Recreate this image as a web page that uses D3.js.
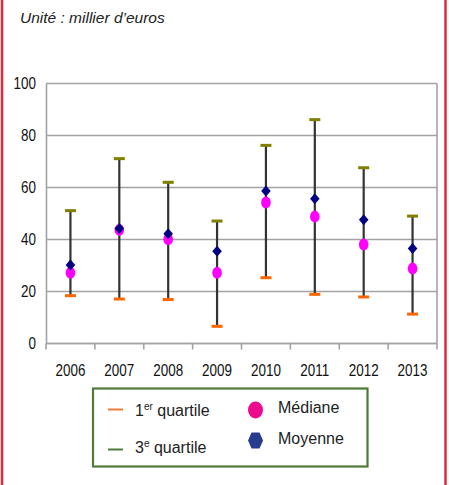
<!DOCTYPE html>
<html>
<head>
<meta charset="utf-8">
<script src="https://cdn.jsdelivr.net/npm/d3@7/dist/d3.min.js"></script>
<style>
  html, body { margin: 0; padding: 0; background: #fff; }
  svg { display: block; font-family: "Liberation Sans", Arial, sans-serif; }
</style>
</head>
<body>
<svg id="chart" width="449" height="485"></svg>
<script>
// Years on the x axis
const years = ["2006", "2007", "2008", "2009", "2010", "2011", "2012", "2013"];
// First quartile, third quartile, median and mean (thousand euros)
const q1 = [18.4, 17.1, 16.9, 6.6, 25.3, 18.9, 17.9, 11.3];
const q3 = [51.1, 71.1, 62.0, 47.1, 76.2, 86.1, 67.6, 49.0];
const median = [27.2, 43.7, 40.1, 27.2, 54.2, 48.8, 38.1, 28.8];
const mean = [30.2, 44.2, 42.2, 35.5, 58.7, 55.7, 47.6, 36.5];
// Y axis ticks
const yTicks = [0, 20, 40, 60, 80, 100];

const rows = years.map((y, i) => ({ year: y, q1: q1[i], q3: q3[i], med: median[i], mean: mean[i] }));

const svg = d3.select("#chart");
const plot = { left: 46, right: 437, top: 83.5, bottom: 343.5 };

const x = d3.scaleBand().domain(years).range([plot.left, plot.right]);
const y = d3.scaleLinear().domain([0, 100]).range([plot.bottom, plot.top]);

// Outer frame: red rules on the left and right
svg.append("line").attr("x1", 2).attr("x2", 2).attr("y1", 0).attr("y2", 485)
  .attr("stroke", "#e02a3c").attr("stroke-width", 2.5);
svg.append("line").attr("x1", 445.5).attr("x2", 445.5).attr("y1", 0).attr("y2", 485)
  .attr("stroke", "#e02a3c").attr("stroke-width", 2.5);

// Unit note
svg.append("text").attr("x", 20).attr("y", 23)
  .attr("font-size", 15.5).attr("font-style", "italic").attr("fill", "#222")
  .text("Unité : millier d’euros");

// Horizontal gridlines
svg.append("g").selectAll("line").data(yTicks).join("line")
  .attr("x1", plot.left).attr("x2", plot.right)
  .attr("y1", d => y(d)).attr("y2", d => y(d))
  .attr("stroke", "#a3a3a3").attr("stroke-width", 1.6);

// Plot frame right edge
svg.append("line").attr("x1", plot.right).attr("x2", plot.right)
  .attr("y1", plot.top).attr("y2", plot.bottom)
  .attr("stroke", "#a3a3a3").attr("stroke-width", 1.6);

// Y axis
const yAxis = svg.append("g").attr("transform", `translate(${plot.left},0)`)
  .call(d3.axisLeft(y).tickValues(yTicks).tickSize(0).tickPadding(10));
yAxis.select(".domain").attr("stroke", "#a3a3a3").attr("stroke-width", 1.6);
yAxis.selectAll("text").attr("font-size", 16).attr("fill", "#111")
  .attr("font-family", "Liberation Sans, Arial, sans-serif")
  .each(function () {
    const t = d3.select(this);
    const xx = +t.attr("x");
    t.attr("x", 0).attr("transform", `translate(${xx},0) scale(0.84,1)`);
  });

// X axis with ticks at category boundaries
const xAxisG = svg.append("g").attr("transform", `translate(0,${plot.bottom})`);
xAxisG.append("line").attr("x1", plot.left).attr("x2", plot.right)
  .attr("stroke", "#a3a3a3").attr("stroke-width", 1.6);
const bounds = years.map(d => x(d)).concat([plot.right]);
xAxisG.selectAll("line.tk").data(bounds).join("line").attr("class", "tk")
  .attr("x1", d => d).attr("x2", d => d).attr("y1", 0).attr("y2", 6)
  .attr("stroke", "#a3a3a3").attr("stroke-width", 1.6);
xAxisG.selectAll("text").data(years).join("text")
  .attr("transform", d => `translate(${x(d) + x.bandwidth() / 2},32.5) scale(0.84,1)`)
  .attr("text-anchor", "middle").attr("font-size", 16).attr("fill", "#111")
  .text(d => d);

const cx = d => x(d.year) + x.bandwidth() / 2;

// Interquartile whiskers
svg.append("g").selectAll("line").data(rows).join("line")
  .attr("x1", cx).attr("x2", cx)
  .attr("y1", d => y(d.q1)).attr("y2", d => y(d.q3))
  .attr("stroke", "#333").attr("stroke-width", 2.2);

// Third quartile caps
svg.append("g").selectAll("rect").data(rows).join("rect")
  .attr("x", d => cx(d) - 5.5).attr("y", d => y(d.q3) - 1.5)
  .attr("width", 11).attr("height", 3).attr("fill", "#7f7f00");

// First quartile caps
svg.append("g").selectAll("rect").data(rows).join("rect")
  .attr("x", d => cx(d) - 5.5).attr("y", d => y(d.q1) - 1.5)
  .attr("width", 11).attr("height", 3).attr("fill", "#ff6600");

// Medians
svg.append("g").selectAll("ellipse").data(rows).join("ellipse")
  .attr("cx", cx).attr("cy", d => y(d.med))
  .attr("rx", 4.8).attr("ry", 6).attr("fill", "#ff00ff");

// Means
svg.append("g").selectAll("path").data(rows).join("path")
  .attr("transform", d => `translate(${cx(d)},${y(d.mean)})`)
  .attr("d", "M0,-5.5L4.8,0L0,5.5L-4.8,0Z").attr("fill", "#000080");

// Legend
const lg = svg.append("g");
lg.append("rect").attr("x", 93).attr("y", 388.5).attr("width", 274.5).attr("height", 78)
  .attr("fill", "#fff").attr("stroke", "#4e7a3a").attr("stroke-width", 2.2);
lg.append("line").attr("x1", 108).attr("x2", 123).attr("y1", 409.5).attr("y2", 409.5)
  .attr("stroke", "#f07b3a").attr("stroke-width", 2);
lg.append("line").attr("x1", 108).attr("x2", 123).attr("y1", 449.5).attr("y2", 449.5)
  .attr("stroke", "#4e7a3a").attr("stroke-width", 2);

const t1 = lg.append("text").attr("x", 135).attr("y", 415.5).attr("font-size", 16).attr("fill", "#222");
t1.append("tspan").text("1");
t1.append("tspan").attr("font-size", 10).attr("dy", -6).text("er");
t1.append("tspan").attr("dy", 6).text(" quartile");

const t3 = lg.append("text").attr("x", 135).attr("y", 452.5).attr("font-size", 16).attr("fill", "#222");
t3.append("tspan").text("3");
t3.append("tspan").attr("font-size", 10).attr("dy", -6).text("e");
t3.append("tspan").attr("dy", 6).text(" quartile");

lg.append("ellipse").attr("cx", 255.5).attr("cy", 410).attr("rx", 7.5).attr("ry", 8.5).attr("fill", "#ee0a8e");
lg.append("path").attr("transform", "translate(255.5,440.5)")
  .attr("d", "M-4,-8L4,-8L7.5,0L4,8L-4,8L-7.5,0Z").attr("fill", "#283c8f");
lg.append("text").attr("x", 278).attr("y", 413).attr("font-size", 16).attr("fill", "#222").text("Médiane");
lg.append("text").attr("x", 278).attr("y", 444).attr("font-size", 16).attr("fill", "#222").text("Moyenne");
</script>
</body>
</html>
